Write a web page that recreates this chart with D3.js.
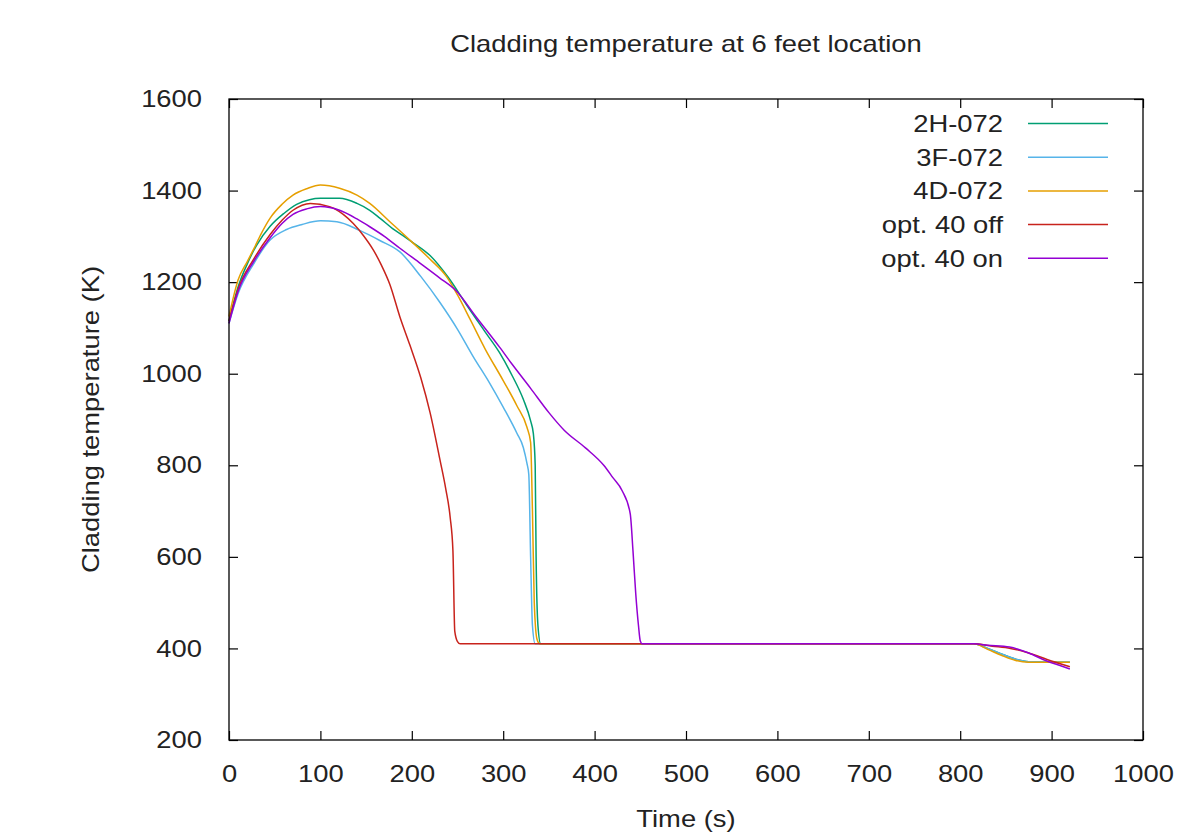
<!DOCTYPE html>
<html>
<head>
<meta charset="utf-8" />
<title>Cladding temperature</title>
<style>
body { margin: 0; background: #fff; }
text { font-family: "Liberation Sans", Arial, sans-serif; fill: #222; }
</style>
</head>
<body>
<div id="chart"></div>
<script src="https://d3js.org/d3.v7.min.js"></script>
<script>
// series names + colours
var labels = ['2H-072', '3F-072', '4D-072', 'opt. 40 off', 'opt. 40 on'];
var colors = ['#009e73', '#56b4e9', '#e69f00', '#c8231c', '#9400d3'];

// time (s) and temperature (K)
var t2H = [0, 10, 20, 30, 45, 60, 74, 88, 100, 121, 140, 154, 165, 179, 190, 200, 220, 240, 260, 280, 296, 310, 322, 330, 333, 335, 336, 338, 341, 815, 830, 845, 860, 875, 900, 920];
var T2H = [1115, 1190, 1240, 1280, 1322, 1350, 1370, 1380, 1383, 1383, 1372, 1357, 1340, 1317, 1302, 1288, 1258, 1210, 1150, 1092, 1046, 995, 944, 897, 869, 800, 600, 450, 410, 410, 400, 388, 377, 371, 370, 370];

var t3F = [0, 10, 27, 45, 63, 80, 100, 118, 143, 165, 187, 210, 231, 250, 267, 285, 300, 315, 322, 326, 328, 330, 332, 335, 815, 830, 845, 860, 875, 900, 920];
var T3F = [1110, 1175, 1240, 1292, 1315, 1326, 1334, 1332, 1313, 1291, 1266, 1212, 1155, 1097, 1038, 980, 927, 870, 839, 804, 780, 600, 450, 410, 410, 400, 388, 377, 371, 370, 370];

var t4D = [0, 10, 20, 27, 35, 45, 58, 70, 85, 100, 121, 140, 154, 176, 200, 220, 238, 250, 264, 280, 300, 315, 326, 330, 332, 334, 337, 340, 815, 830, 845, 860, 875, 900, 920];
var T4D = [1125, 1205, 1245, 1272, 1305, 1340, 1370, 1390, 1404, 1412, 1405, 1390, 1372, 1332, 1288, 1250, 1212, 1172, 1118, 1055, 985, 930, 883, 850, 700, 500, 420, 410, 410, 398, 385, 374, 370, 370, 370];

var tOff = [0, 10, 27, 45, 58, 70, 89, 110, 125, 136, 147, 158, 167, 176, 187, 198, 210, 220, 231, 237, 242, 245, 247, 250, 253, 815, 835, 855, 875, 895, 920];
var TOff = [1115, 1185, 1250, 1304, 1335, 1357, 1372, 1365, 1348, 1328, 1302, 1270, 1236, 1195, 1124, 1062, 990, 915, 810, 750, 686, 613, 438, 415, 410, 410, 405, 400, 390, 376, 360];

var tOn = [0, 10, 27, 45, 58, 70, 85, 100, 121, 140, 154, 170, 187, 210, 230, 249, 270, 296, 310, 330, 350, 367, 390, 410, 420, 430, 439, 442, 445, 448, 450, 452, 815, 830, 854, 875, 894, 910, 920];
var TOn = [1110, 1180, 1245, 1297, 1328, 1348, 1360, 1365, 1357, 1338, 1321, 1300, 1274, 1240, 1210, 1180, 1125, 1058, 1020, 968, 915, 876, 838, 800, 773, 745, 694, 613, 520, 450, 416, 410, 410, 407, 403, 390, 373, 362, 355];

var xTicks = [0, 100, 200, 300, 400, 500, 600, 700, 800, 900, 1000];
var yTicks = [200, 400, 600, 800, 1000, 1200, 1400, 1600];

var times = [t2H, t3F, t4D, tOff, tOn];
var temps = [T2H, T3F, T4D, TOff, TOn];
var series = labels.map(function(l, i) {
  return { label: l, color: colors[i], values: d3.zip(times[i], temps[i]) };
});

var width = 1200, height = 835;
var mLeft = 229, mRight = 1143, mTop = 99, mBottom = 740;
var stretchK = 1.14;

var svg = d3.select('#chart').append('svg')
  .attr('width', width)
  .attr('height', height);

var x = d3.scaleLinear().domain([0, 1000]).range([mLeft, mRight]);
var y = d3.scaleLinear().domain([200, 1600]).range([mBottom, mTop]);

// gnuplot text looks wider than Arial, stretch it a bit
function stretch(sel) {
  sel.each(function() {
    var w = this.getComputedTextLength();
    this.setAttribute('textLength', w * stretchK);
    this.setAttribute('lengthAdjust', 'spacingAndGlyphs');
  });
}

var fmt = d3.format('d');

svg.append('g')
  .attr('transform', 'translate(0,' + mBottom + ')')
  .call(d3.axisBottom(x).tickValues(xTicks).tickFormat(fmt).tickSizeInner(-9).tickSizeOuter(0).tickPadding(25))
  .call(function(g) { g.select('.domain').remove(); });
svg.append('g')
  .attr('transform', 'translate(' + mLeft + ',0)')
  .call(d3.axisLeft(y).tickValues(yTicks).tickFormat(fmt).tickSizeInner(-9).tickSizeOuter(0).tickPadding(27))
  .call(function(g) { g.select('.domain').remove(); });
svg.append('g')
  .attr('transform', 'translate(0,' + mTop + ')')
  .call(d3.axisTop(x).tickValues(xTicks).tickSizeInner(-9).tickSizeOuter(0).tickFormat(''))
  .call(function(g) { g.select('.domain').remove(); });
svg.append('g')
  .attr('transform', 'translate(' + mRight + ',0)')
  .call(d3.axisRight(y).tickValues(yTicks).tickSizeInner(-9).tickSizeOuter(0).tickFormat(''))
  .call(function(g) { g.select('.domain').remove(); });

svg.selectAll('.tick line').attr('stroke', '#000').attr('stroke-width', 1.2);
svg.selectAll('.tick text')
  .attr('font-size', 24)
  .attr('font-family', '"Liberation Sans", Arial, sans-serif')
  .attr('fill', '#222')
  .call(stretch);

var line = d3.line()
  .curve(d3.curveMonotoneX)
  .x(function(d) { return x(d[0]); })
  .y(function(d) { return y(d[1]); });

svg.selectAll('path.series')
  .data(series)
  .enter()
  .append('path')
  .attr('class', 'series')
  .attr('fill', 'none')
  .attr('stroke', function(d) { return d.color; })
  .attr('stroke-width', 1.5)
  .attr('stroke-linejoin', 'round')
  .attr('d', function(d) { return line(d.values); });

// frame
svg.append('rect')
  .attr('x', mLeft).attr('y', mTop)
  .attr('width', mRight - mLeft).attr('height', mBottom - mTop)
  .attr('fill', 'none').attr('stroke', '#000').attr('stroke-width', 1.3);

// legend
var legend = svg.selectAll('g.legend')
  .data(series)
  .enter()
  .append('g')
  .attr('class', 'legend')
  .attr('transform', function(d, i) { return 'translate(0,' + (123.5 + i * 33.7) + ')'; });
legend.append('line')
  .attr('x1', 1028).attr('x2', 1108)
  .attr('stroke', function(d) { return d.color; })
  .attr('stroke-width', 1.5);
legend.append('text')
  .attr('x', 1003).attr('y', 8.5)
  .attr('text-anchor', 'end')
  .attr('font-size', 24)
  .text(function(d) { return d.label; })
  .call(stretch);

svg.append('text')
  .attr('x', (mLeft + mRight) / 2).attr('y', 52)
  .attr('text-anchor', 'middle')
  .attr('font-size', 24)
  .text('Cladding temperature at 6 feet location')
  .call(stretch);

svg.append('text')
  .attr('x', (mLeft + mRight) / 2).attr('y', 827)
  .attr('text-anchor', 'middle')
  .attr('font-size', 24)
  .text('Time (s)')
  .call(stretch);

svg.append('text')
  .attr('transform', 'translate(99,' + ((mTop + mBottom) / 2) + ') rotate(-90)')
  .attr('text-anchor', 'middle')
  .attr('font-size', 24)
  .text('Cladding temperature (K)')
  .call(stretch);
</script>
</body>
</html>
